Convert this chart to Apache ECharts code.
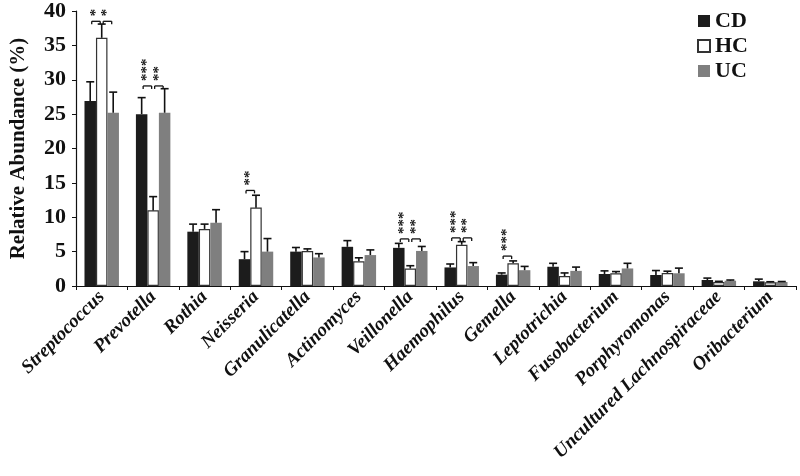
<!DOCTYPE html>
<html>
<head>
<meta charset="utf-8">
<title>Relative Abundance</title>
<script src="https://cdn.jsdelivr.net/npm/echarts@6/dist/echarts.min.js"></script>
<style>
  html, body { margin: 0; padding: 0; background: #fff; }
  #main { width: 800px; height: 476px; }
</style>
</head>
<body>
<div id="main"></div>
<script>
var genera = ['Streptococcus', 'Prevotella', 'Rothia', 'Neisseria', 'Granulicatella', 'Actinomyces',
  'Veillonella', 'Haemophilus', 'Gemella', 'Leptotrichia', 'Fusobacterium', 'Porphyromonas',
  'Uncultured Lachnospiraceae', 'Oribacterium'];

var cdMean = [26.9, 25.0, 7.9, 3.9, 5.0, 5.7, 5.55, 2.7, 1.65, 2.8, 1.75, 1.6, 0.87, 0.68];
var cdErr  = [29.7, 27.4, 9.0, 5.0, 5.6, 6.6, 6.2, 3.2, 1.9, 3.3, 2.2, 2.25, 1.15, 1.0];
var hcMean = [36.1, 11.0, 8.3, 11.4, 5.1, 3.6, 2.55, 6.0, 3.3, 1.45, 1.85, 1.9, 0.58, 0.55];
var hcErr  = [38.1, 13.0, 9.0, 13.2, 5.4, 4.1, 2.95, 6.45, 3.65, 1.9, 2.1, 2.15, 0.68, 0.62];
var ucMean = [25.2, 25.2, 9.2, 5.0, 4.15, 4.5, 5.1, 2.9, 2.3, 2.2, 2.55, 1.85, 0.77, 0.58];
var ucErr  = [28.2, 28.7, 11.1, 6.9, 4.7, 5.25, 5.75, 3.4, 2.85, 2.75, 3.3, 2.6, 0.87, 0.65];

// [category, from bar, to bar, bracket height, stars]
var sigMarks = [
  [0, 0, 1, 38.5, '*'], [0, 1, 2, 38.5, '*'],
  [1, 0, 1, 29.1, '***'], [1, 1, 2, 29.1, '**'],
  [3, 0, 1, 13.9, '**'],
  [6, 0, 1, 6.85, '***'], [6, 1, 2, 6.85, '**'],
  [7, 0, 1, 7.0, '***'], [7, 1, 2, 7.0, '**'],
  [8, 0, 1, 4.35, '***']
];

var chart = echarts.init(document.getElementById('main'));
var serif = 'Liberation Serif, Times New Roman, serif';
var groupFrac = 0.67;

function barOffset(idx, band) {
  var w = band * groupFrac / 3;
  return (idx - 1) * w;
}

function errSeries(name, mean, err, idx) {
  return {
    type: 'custom',
    name: name + ' err',
    z: 5,
    silent: true,
    data: mean.map(function (m, i) { return [i, m, err[i]]; }),
    renderItem: function (params, api) {
      var band = api.size([1, 0])[0];
      var off = barOffset(idx, band);
      var lo = api.coord([api.value(0), api.value(1)]);
      var hi = api.coord([api.value(0), api.value(2)]);
      var x = lo[0] + off;
      var st = { stroke: '#111', lineWidth: 1.6 };
      return {
        type: 'group',
        children: [
          { type: 'line', shape: { x1: x, y1: lo[1], x2: x, y2: hi[1] }, style: st },
          { type: 'line', shape: { x1: x - 4, y1: hi[1], x2: x + 4, y2: hi[1] }, style: st }
        ]
      };
    }
  };
}

var option = {
  animation: false,
  backgroundColor: '#fff',
  grid: { left: 68, right: 4, top: 9, bottom: 190 },
  legend: {
    orient: 'vertical',
    left: 692,
    top: 5,
    itemWidth: 12,
    itemHeight: 12,
    itemGap: 3,
    icon: 'rect',
    data: ['CD', 'HC', 'UC'],
    textStyle: { fontFamily: serif, fontWeight: 'bold', fontSize: 22, color: '#111' }
  },
  xAxis: {
    type: 'category',
    data: genera,
    axisLine: { lineStyle: { color: '#111', width: 1.2 } },
    axisTick: { show: true, length: 4, lineStyle: { color: '#111' } },
    axisLabel: {
      interval: 0,
      rotate: 45,
      margin: 8,
      fontFamily: serif,
      fontStyle: 'italic',
      fontWeight: 'bold',
      fontSize: 19,
      color: '#111'
    }
  },
  yAxis: {
    type: 'value',
    min: 0,
    max: 40,
    interval: 5,
    name: 'Relative Abundance (%)',
    nameLocation: 'middle',
    nameGap: 47,
    nameTextStyle: { fontFamily: serif, fontWeight: 'bold', fontSize: 21, color: '#111' },
    splitLine: { show: false },
    axisLine: { show: true, lineStyle: { color: '#111', width: 1.2 } },
    axisTick: { show: true, length: 4, lineStyle: { color: '#111' } },
    axisLabel: { fontFamily: serif, fontWeight: 'bold', fontSize: 22, color: '#111', margin: 10 }
  },
  series: [
    { name: 'CD', type: 'bar', data: cdMean, barGap: '0%', barCategoryGap: '33%',
      itemStyle: { color: '#1c1c1c' } },
    { name: 'HC', type: 'bar', data: hcMean,
      itemStyle: { color: '#fff', borderColor: '#333', borderWidth: 1.2 } },
    { name: 'UC', type: 'bar', data: ucMean,
      itemStyle: { color: '#7f7f7f' } },
    errSeries('CD', cdMean, cdErr, 0),
    errSeries('HC', hcMean, hcErr, 1),
    errSeries('UC', ucMean, ucErr, 2),
    {
      type: 'custom',
      name: 'sig',
      z: 6,
      silent: true,
      data: sigMarks,
      renderItem: function (params, api) {
        var band = api.size([1, 0])[0];
        var cat = api.value(0);
        var p = api.coord([cat, api.value(3)]);
        var x1 = p[0] + barOffset(api.value(1), band) + 1.5;
        var x2 = p[0] + barOffset(api.value(2), band) - 1.5;
        var y = p[1];
        var st = { stroke: '#111', lineWidth: 1.3 };
        var label = sigMarks[params.dataIndex][4];
        return {
          type: 'group',
          children: [
            { type: 'line', shape: { x1: x1, y1: y, x2: x2, y2: y }, style: st },
            { type: 'line', shape: { x1: x1, y1: y, x2: x1, y2: y + 3 }, style: st },
            { type: 'line', shape: { x1: x2, y1: y, x2: x2, y2: y + 3 }, style: st },
            {
              type: 'text',
              x: (x1 + x2) / 2,
              y: y - 5,
              rotation: Math.PI / 2,
              style: {
                text: label,
                fontFamily: serif,
                fontWeight: 'bold',
                fontSize: 15,
                fill: '#111',
                align: 'left',
                verticalAlign: 'middle'
              }
            }
          ]
        };
      }
    }
  ]
};

chart.setOption(option);
</script>
</body>
</html>
